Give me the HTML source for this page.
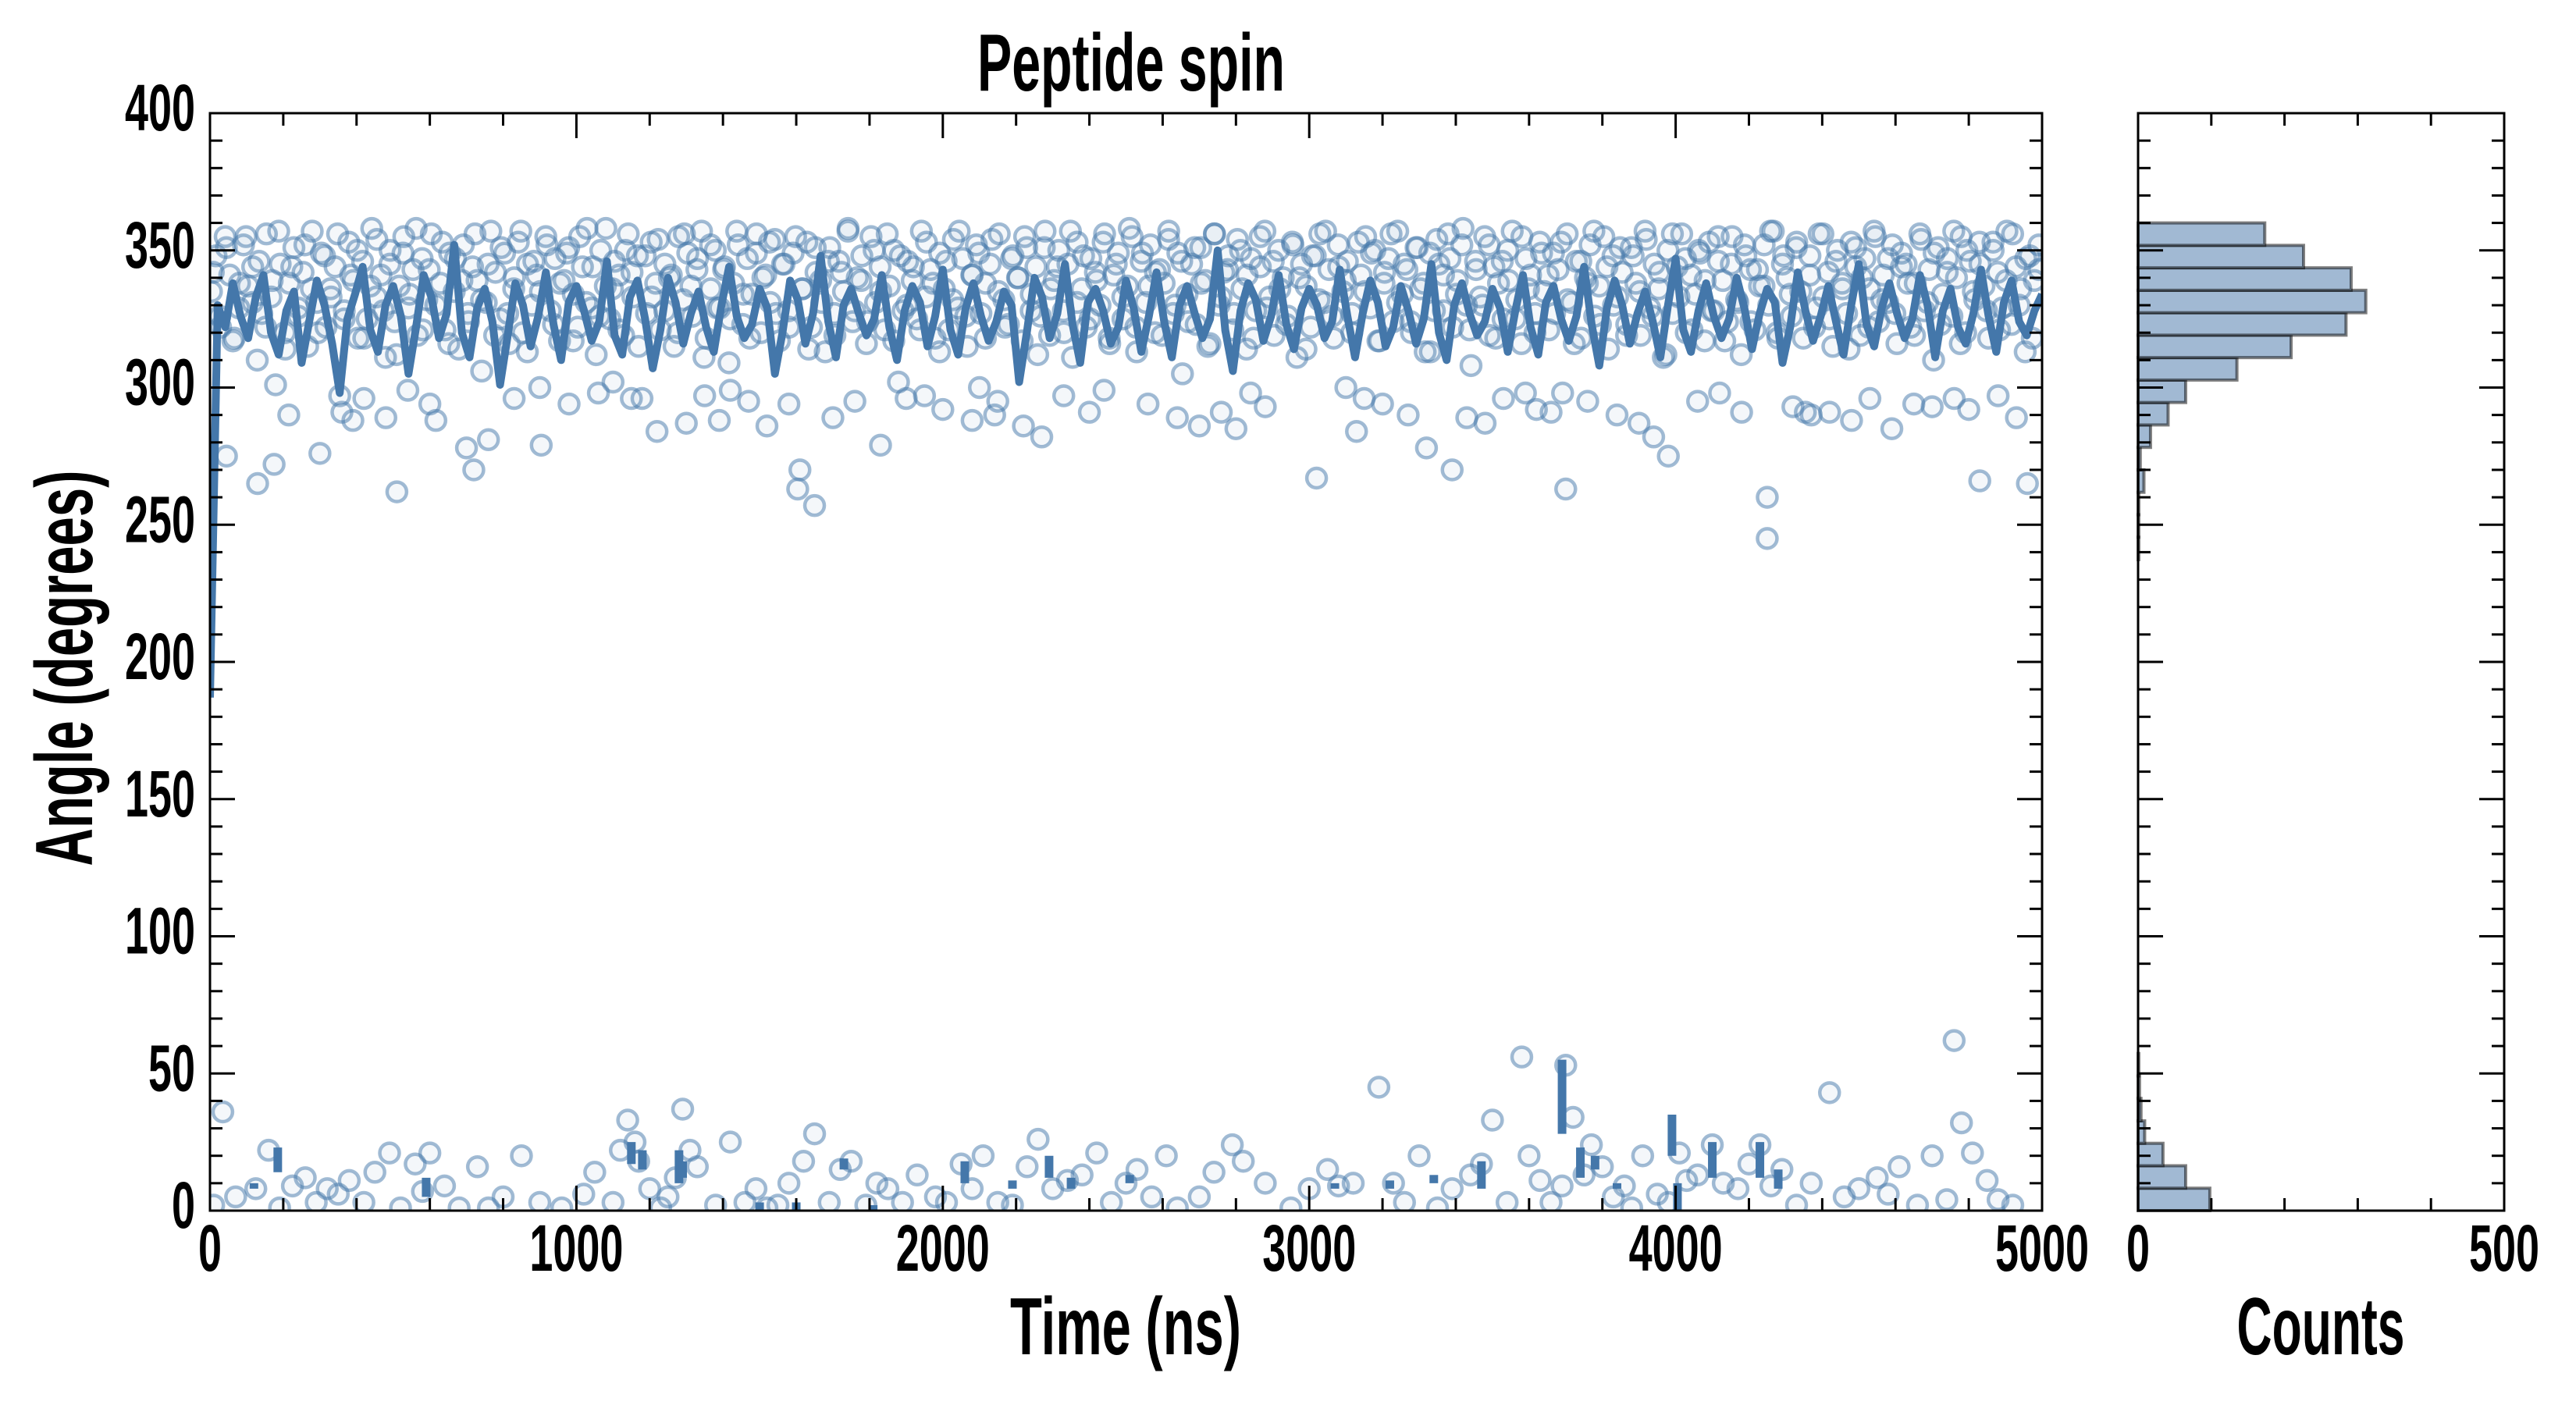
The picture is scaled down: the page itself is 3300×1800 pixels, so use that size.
<!DOCTYPE html>
<html><head><meta charset="utf-8"><title>Peptide spin</title>
<style>
html,body{margin:0;padding:0;background:#fff;}
svg{display:block;}
text{font-family:"Liberation Sans Narrow","Liberation Sans",sans-serif;font-weight:bold;fill:#000;}
</style></head>
<body>
<svg id="chart" width="3300" height="1800" viewBox="0 0 3300 1800" xmlns="http://www.w3.org/2000/svg">
<rect x="0" y="0" width="3300" height="1800" fill="#fff"/>
<text x="1449" y="116" font-size="104" text-anchor="middle" textLength="394" lengthAdjust="spacingAndGlyphs">Peptide spin</text>
<text x="1442" y="1735" font-size="104" text-anchor="middle" textLength="296" lengthAdjust="spacingAndGlyphs">Time (ns)</text>
<text x="2973" y="1735" font-size="104" text-anchor="middle" textLength="215" lengthAdjust="spacingAndGlyphs">Counts</text>
<text transform="translate(118,856) rotate(-90)" x="0" y="0" font-size="104" text-anchor="middle" textLength="507" lengthAdjust="spacingAndGlyphs">Angle (degrees)</text>
<g id="plot"></g>
<g id="hist"></g>
<g id="axes"></g>
</svg>
<script>
// ---------- data ----------
const lineVals = [187,330,322,338,326,318,333,341,320,312,328,335,309,324,339,330,316,298,325,334,
344,321,313,330,337,326,305,322,341,333,318,327,352,320,311,329,336,324,301,319,
338,330,315,326,342,323,310,331,337,328,317,324,346,319,312,333,339,325,307,321,
340,331,316,327,335,322,313,330,344,326,318,323,336,329,305,320,339,332,316,327,
348,324,311,330,336,327,319,325,341,322,310,328,337,331,315,326,343,321,312,329,
338,326,317,324,335,330,302,320,340,333,318,327,345,323,309,331,336,328,316,322,
339,329,313,326,342,324,311,330,337,327,318,325,350,321,306,328,338,332,317,326,
341,323,314,329,336,330,318,324,343,326,311,327,339,331,315,322,337,328,316,325,
345,320,310,330,338,327,319,324,336,329,313,328,341,322,312,331,337,325,317,326,
344,323,308,329,339,330,316,327,335,324,311,330,347,321,313,328,338,326,318,325,
340,329,314,327,336,331,309,322,342,328,317,326,337,324,312,330,345,323,315,329,
338,327,318,325,341,330,311,328,336,322,316,327,343,326,313,331,339,324,319,328,334];

const upVals = [335,348,322,355,341,318,329,352,337,344,310,327,356,333,301,345,320,338,351,326,
342,315,357,331,349,322,336,344,297,328,353,339,318,346,325,358,333,341,311,350,
324,337,355,329,343,319,347,332,356,288,338,321,349,335,314,352,327,344,339,306,
331,357,342,325,349,316,336,353,320,345,330,341,279,355,328,347,317,339,351,334,
322,344,358,329,312,350,337,325,346,341,319,356,333,348,296,327,353,338,321,345,
340,315,355,332,349,326,343,357,318,336,350,329,344,309,338,352,323,347,334,356,
320,341,331,354,317,345,328,349,263,336,353,322,342,339,313,351,327,346,335,358,
324,340,348,316,355,331,344,321,337,350,302,328,346,339,325,357,333,343,318,349,
336,321,354,329,347,315,341,352,327,338,345,290,356,332,323,348,340,317,351,334,
344,326,357,319,339,350,328,345,311,353,336,322,347,342,330,356,318,341,349,325,
337,355,313,346,331,352,320,343,338,357,327,349,305,334,345,323,351,339,316,356,
330,342,348,321,354,336,314,347,328,344,357,333,319,350,340,326,353,311,345,337,
322,348,356,331,343,318,352,335,346,327,284,341,355,329,350,317,338,347,324,357,
334,343,320,351,336,313,349,328,345,341,356,322,339,352,330,308,346,333,355,319,
344,338,325,350,357,332,316,347,341,327,353,335,321,349,343,298,356,331,346,318,
340,352,326,337,355,314,348,333,342,323,351,338,319,357,329,345,336,311,350,327,
344,356,320,341,334,349,317,353,328,346,339,324,355,332,312,348,343,321,337,352,
330,357,318,345,340,326,351,335,291,348,322,356,333,342,315,350,338,327,353,344,
319,347,336,357,324,341,331,352,316,349,345,322,338,356,328,343,310,351,334,347,
326,340,355,320,346,332,353,337,318,350,342,329,357,323,344,336,313,348,339,352];

const upVals2 = [342,326,351,317,338,355,331,346,322,339,357,314,344,329,352,336,320,348,333,356,
325,341,350,318,337,354,328,345,312,349,334,358,321,343,330,353,316,347,339,324,
356,332,345,319,351,327,340,357,313,346,335,352,323,338,349,317,355,331,344,326,
358,336,321,350,342,315,348,333,354,328,341,320,356,337,347,311,352,329,343,325,
357,334,318,349,340,353,327,345,322,355,336,314,351,331,346,319,342,357,328,339,
324,350,335,356,317,348,330,344,321,353,338,313,346,332,357,326,341,349,318,354,
335,322,347,340,355,328,312,351,336,344,320,357,331,348,325,339,353,316,345,333,
358,322,349,337,342,319,354,330,346,324,351,338,315,356,333,343,327,350,341,318,
355,329,346,336,323,352,340,314,348,332,357,326,344,339,320,353,335,349,317,342,
356,331,345,324,351,338,313,354,328,347,334,358,321,343,330,352,318,346,339,325,
355,336,320,349,341,327,353,332,316,346,338,357,323,344,330,351,319,348,335,354,
326,342,312,356,333,347,321,350,339,328,355,317,345,331,352,324,343,337,357,320,
348,334,353,318,341,329,356,325,346,336,314,351,340,322,355,332,347,327,344,338,
319,354,331,349,323,342,357,316,350,335,345,328,353,321,339,356,330,347,318,343];

const outT = [45,130,175,215,300,360,390,420,480,510,540,600,700,720,760,830,900,980,1060,1100,
1150,1220,1300,1350,1390,1420,1470,1520,1580,1610,1650,1700,1760,1830,1900,1950,2000,2080,2100,2150,
2220,2270,2330,2400,2440,2560,2640,2700,2760,2800,2840,2880,3020,3100,3150,3200,3270,3320,3390,3430,
3480,3530,3590,3620,3660,3700,3760,3840,3900,3940,3980,4060,4120,4180,4250,4250,4320,4370,4420,4480,
4530,4590,4650,4700,4760,4800,4830,4880,4930,4960];
const outV = [275,265,272,290,276,291,288,296,289,262,299,294,278,270,281,296,300,294,298,302,
296,284,287,297,288,299,295,286,294,270,257,289,295,279,296,297,292,288,300,295,
286,282,297,291,299,294,289,286,291,285,298,293,267,300,296,294,290,278,270,289,
287,296,298,292,291,263,295,290,287,282,275,295,298,291,260,245,293,290,291,288,
296,285,294,293,296,292,266,297,289,265];

const lowT = [10,35,70,125,160,190,225,260,290,320,350,380,420,450,490,520,560,580,600,640,
680,730,760,800,850,900,960,1020,1050,1100,1120,1140,1160,1170,1200,1230,1250,1270,1290,1310,
1330,1380,1420,1460,1490,1520,1550,1580,1620,1650,1690,1720,1750,1790,1820,1850,1890,1930,1980,2010,
2050,2080,2110,2150,2190,2230,2260,2300,2340,2380,2420,2460,2500,2530,2570,2610,2640,2700,2740,2790,
2820,2880,2950,3000,3050,3080,3120,3190,3230,3260,3300,3350,3390,3440,3470,3500,3540,3580,3600,3630,
3660,3690,3700,3720,3750,3770,3800,3830,3860,3880,3910,3950,3980,4010,4030,4060,4100,4130,4170,4200,
4230,4260,4290,4330,4370,4420,4460,4500,4550,4580,4610,4660,4700,4740,4760,4780,4810,4850,4880,4920];
const lowV = [2,36,5,8,22,1,9,12,3,8,6,11,3,14,21,1,17,7,21,9,
1,16,1,5,20,3,1,6,14,3,22,33,25,18,8,1,5,12,37,22,
16,2,25,3,8,1,2,10,18,28,3,15,18,2,10,8,3,13,5,3,
17,8,20,3,2,16,26,8,11,13,21,3,10,15,5,20,1,5,14,24,
18,10,1,8,15,9,10,45,10,3,20,1,8,13,17,33,3,56,20,11,
3,9,53,34,13,24,16,5,9,1,20,6,3,21,11,13,24,10,8,17,
24,9,15,2,10,43,5,8,12,6,16,2,20,4,62,32,21,11,4,2];

const segT  = [120,185,590,1150,1180,1280,1290,1500,1600,1730,1810,2060,2190,2290,2350,2510,3070,3220,3340,3470,3690,3740,3780,3840,3990,4005,4100,4230,4280];
const segLo = [8,14,5,17,15,10,12,0,0,15,0,10,8,12,8,10,8,8,10,8,28,12,15,8,20,0,12,12,8];
const segHi = [10,23,12,25,22,22,18,3,3,19,2,18,11,20,12,13,10,11,13,18,55,23,20,10,35,10,25,25,15];

const histCounts = [98,65,34,9,4,2,1,0,0,0,0,0,0,0,0,0,0,0,0,0,0,0,0,0,0,0,0,0,0,1,1,1,8,3,17,41,65,135,209,284,311,291,226,173];
const histBinWidth = 360/44;

const xTicks = ["0","1000","2000","3000","4000","5000"];
const yTicks = ["0","50","100","150","200","250","300","350","400"];
const hxTicks = ["0","500"];

// ---------- layout ----------
const L=269, R=2616, T=145, B=1551, HL=2739, HR=3208, TMAX=5000;
const xS = t => L + (t/TMAX)*(R-L);
const yS = v => B - (v/400)*(B-T);
const hS = c => HL + (c/500)*(HR-HL);
const NS="http://www.w3.org/2000/svg";
function mk(tag, attrs, parent){const e=document.createElementNS(NS,tag);for(const k in attrs)e.setAttribute(k,attrs[k]);parent.appendChild(e);return e;}
const plot=document.getElementById('plot'), hist=document.getElementById('hist'), axes=document.getElementById('axes');
const circStyle={r:12.5,fill:"rgba(68,119,170,0.06)",stroke:"rgba(68,119,170,0.5)","stroke-width":4.5};

function scatterSeries(vals, offset, name){
  const step = TMAX/vals.length;
  vals.forEach((v,i)=>{const c=mk('circle',Object.assign({cx:xS(i*step+offset),cy:yS(v)},circStyle),plot);
  
  });
}
scatterSeries(upVals, 4, 'data-point');
scatterSeries(upVals2, 9, 'data-point');
outT.forEach((t,i)=>{const c=mk('circle',Object.assign({cx:xS(t),cy:yS(outV[i])},circStyle),plot);

});
lowT.forEach((t,i)=>{const c=mk('circle',Object.assign({cx:xS(t),cy:yS(lowV[i])},circStyle),plot);

});

// running line
const lineStep = TMAX/(lineVals.length-1);
let d='';lineVals.forEach((v,i)=>{d+=(i?'L':'M')+xS(i*lineStep).toFixed(1)+','+yS(v).toFixed(1);});
const ln=mk('path',{d:d,fill:'none',stroke:'#4477aa','stroke-width':10,'stroke-linejoin':'round'},plot);


segT.forEach((t,i)=>{const s=mk('line',{x1:xS(t),x2:xS(t),y1:yS(segLo[i]),y2:yS(segHi[i]),stroke:'#4477aa','stroke-width':11},plot);

});

const cp=mk('clipPath',{id:'clipMain'},document.getElementById('chart'));
mk('rect',{x:L,y:T,width:R-L,height:B-T},cp);
plot.setAttribute('clip-path','url(#clipMain)');

// histogram
histCounts.forEach((c,i)=>{if(c<=0)return;const y0=yS((i+1)*histBinWidth), y1=yS(i*histBinWidth);
const r=mk('rect',{x:HL,y:y0,width:hS(c)-HL,height:y1-y0,fill:'#a1b9d3',stroke:'rgba(0,0,0,0.5)','stroke-width':4},hist);

});

function frame(x0,x1,name){const f=mk('rect',{x:x0,y:T,width:x1-x0,height:B-T,fill:'none',stroke:'#000','stroke-width':3},axes);

}
frame(L,R,'main-axes-frame');frame(HL,HR,'hist-axes-frame');

function tick(x1,y1,x2,y2){mk('line',{x1:x1,y1:y1,x2:x2,y2:y2,stroke:'#000','stroke-width':3},axes);}
for(let v=0;v<=400;v+=10){const y=yS(v);const len=(v%50===0)?32:16;
 tick(L,y,L+len,y);tick(R,y,R-len,y);tick(HL,y,HL+len,y);tick(HR,y,HR-len,y);}
for(let t=0;t<=5000;t+=200){const x=xS(t);const len=(t%1000===0)?32:16;tick(x,B,x,B-len);tick(x,T,x,T+len);}
for(let c=0;c<=500;c+=100){const x=hS(c);const len=(c%500===0)?32:16;tick(x,B,x,B-len);tick(x,T,x,T+len);}

yTicks.forEach(s=>{const tx=mk('text',{x:250,y:yS(+s)+22,'font-size':84,'text-anchor':'end',textLength:s.length*30,lengthAdjust:'spacingAndGlyphs'},axes);tx.textContent=s;

});
xTicks.forEach(s=>{const tx=mk('text',{x:xS(+s),y:1628,'font-size':84,'text-anchor':'middle',textLength:s.length*30,lengthAdjust:'spacingAndGlyphs'},axes);tx.textContent=s;

});
hxTicks.forEach(s=>{const tx=mk('text',{x:hS(+s),y:1628,'font-size':84,'text-anchor':'middle',textLength:s.length*30,lengthAdjust:'spacingAndGlyphs'},axes);tx.textContent=s;

});
</script>
</body></html>
